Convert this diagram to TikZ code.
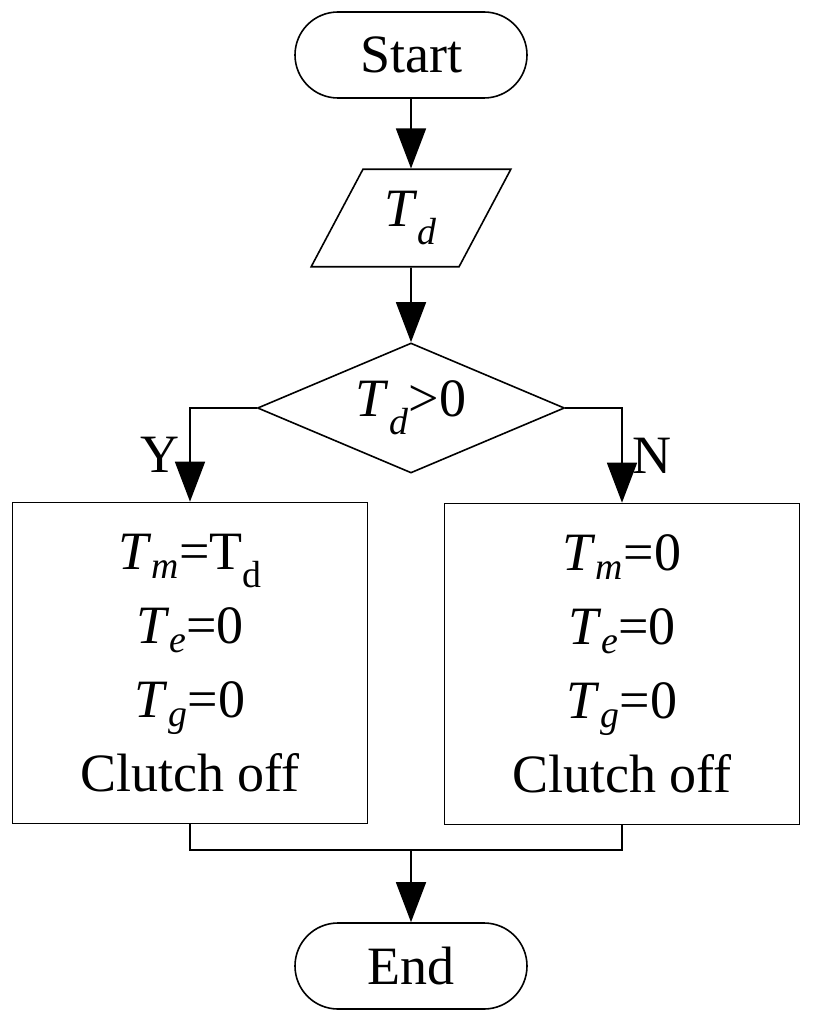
\documentclass[tikz,border=0pt]{standalone}
\usepackage{fontspec}
\setmainfont{Liberation Serif}
\usetikzlibrary{positioning, shapes.geometric, arrows.meta}
\newcommand{\Tv}[1]{\textit{T}\textsubscript{\textit{#1}}}

\begin{document}
\begin{tikzpicture}[
    x=1pt, y=1pt,
    every node/.style={font=\fontsize{54}{74}\selectfont, align=center, draw, line width=1.6pt},
    terminal/.style={rounded corners=43pt, minimum width=232pt, minimum height=86pt},
    io/.style={trapezium, trapezium left angle=62, trapezium right angle=118, minimum width=200pt, minimum height=95pt, inner sep=2pt},
    decision/.style={diamond, aspect=2.36, minimum width=307pt, minimum height=130pt, inner sep=0pt},
    action/.style={minimum width=355pt, minimum height=321pt},
    label/.style={draw=none},
    every path/.style={line width=1.6pt},
    flow/.style={-{Triangle[length=40pt, width=30pt]}}]

    \useasboundingbox (0,0) rectangle (812,-1024);

    \node[terminal] (start) at (411,-55) {Start};
    \node[io] (input) at (411,-218) {\Tv{d}};
    \node[decision] (check) at (411,-408) {\Tv{d}>0};
    \node[action] (yes) at (190,-663) {\Tv{m}=T\textsubscript{d}\\ \Tv{e}=0\\ \Tv{g}=0\\ Clutch off};
    \node[action] (no) at (622,-664) {\Tv{m}=0\\ \Tv{e}=0\\ \Tv{g}=0\\ Clutch off};
    \node[terminal] (end) at (411,-966) {End};

    \draw[flow] (start) -- (input);
    \draw[flow] (input) -- (check);
    \draw[flow] (check.west) -| (yes.north) node[label, pos=0.75, left=6pt] {Y};
    \draw[flow] (check.east) -| (no.north) node[label, pos=0.75, right=6pt] {N};

    % joining both branches
    \coordinate (join) at (411,-850);
    \draw (yes.south) |- (join);
    \draw (no.south) |- (join);
    \draw[flow] (join) -- (end);

\end{tikzpicture}
\end{document}
